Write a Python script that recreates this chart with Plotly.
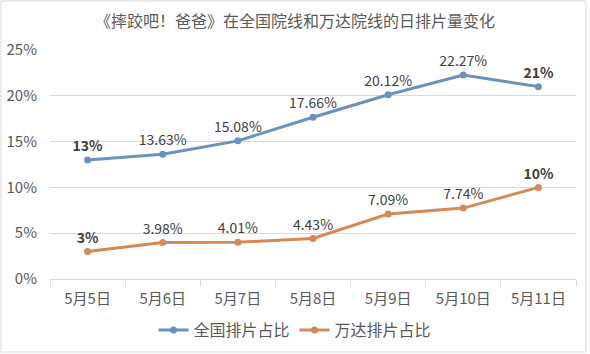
import plotly.graph_objects as go

categories = ["5月5日", "5月6日", "5月7日", "5月8日", "5月9日", "5月10日", "5月11日"]
national = [13, 13.63, 15.08, 17.66, 20.12, 22.27, 21]
wanda = [3, 3.98, 4.01, 4.43, 7.09, 7.74, 10]
national_labels = ["<b>13%</b>", "13.63%", "15.08%", "17.66%", "20.12%", "22.27%", "<b>21%</b>"]
wanda_labels = ["<b>3%</b>", "3.98%", "4.01%", "4.43%", "7.09%", "7.74%", "<b>10%</b>"]
yticks = [0, 5, 10, 15, 20, 25]

FONT = "Noto Sans CJK SC, Open Sans, sans-serif"
BLUE = "#6A93BC"
ORANGE = "#D58A55"

fig = go.Figure()
fig.add_trace(go.Scatter(
    x=categories, y=national, name="全国排片占比", mode="lines+markers+text",
    line=dict(color=BLUE, width=3), marker=dict(size=7, color=BLUE),
    text=national_labels, textposition="top center",
    textfont=dict(size=14, color="#404040", family=FONT), cliponaxis=False))
fig.add_trace(go.Scatter(
    x=categories, y=wanda, name="万达排片占比", mode="lines+markers+text",
    line=dict(color=ORANGE, width=3), marker=dict(size=7, color=ORANGE),
    text=wanda_labels, textposition="top center",
    textfont=dict(size=14, color="#404040", family=FONT), cliponaxis=False))

fig.update_layout(
    width=590, height=354,
    margin=dict(l=50, r=14, t=50, b=75, autoexpand=False),
    paper_bgcolor="white", plot_bgcolor="white",
    font=dict(family=FONT, color="#595959"),
    title=dict(text="《摔跤吧！爸爸》在全国院线和万达院线的日排片量变化",
               xref="container", x=0.5, xanchor="center", y=0.94, yanchor="middle",
               font=dict(size=16, color="#595959", family=FONT)),
    showlegend=True,
    legend=dict(orientation="h", xref="container", x=0.5, xanchor="center",
                yref="container", y=1 - 330 / 354, yanchor="middle",
                font=dict(size=16, color="#595959", family=FONT), itemwidth=30),
    xaxis=dict(type="category", range=[-0.5, 6.5], tickson="boundaries",
               ticks="outside", ticklen=6, tickcolor="#d9d9d9",
               showline=True, linecolor="#d9d9d9", showgrid=False,
               tickfont=dict(size=15, color="#595959"), ticklabelstandoff=6,
               fixedrange=True, automargin=False),
    yaxis=dict(range=[0, 25], tickvals=yticks, ticktext=[f"{v}%" for v in yticks],
               showgrid=True, gridcolor="#d9d9d9", zeroline=False, showline=False,
               tickfont=dict(size=15, color="#595959"), ticklabelstandoff=12,
               automargin=False),
    shapes=[dict(type="rect", xref="paper", yref="paper",
                 x0=-49/526, x1=(586-50)/526, y0=(279-352)/229, y1=(279-1)/229,
                 line=dict(color="#d9d9d9", width=1), fillcolor="rgba(0,0,0,0)",
                 layer="below")],
)

fig.write_html("out.html")
